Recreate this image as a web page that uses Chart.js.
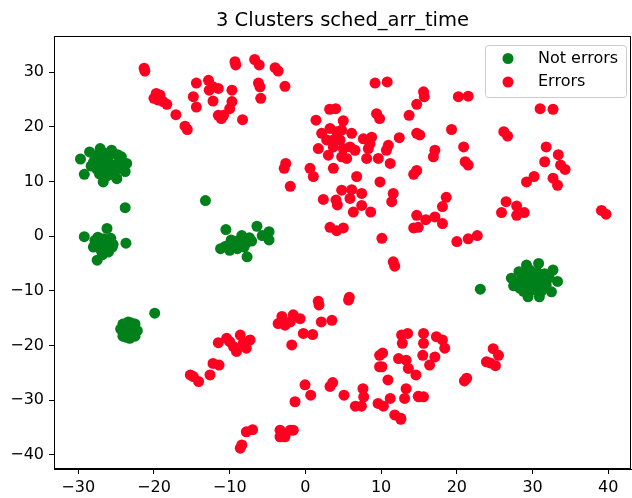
<!DOCTYPE html>
<html>
<head>
<meta charset="utf-8">
<script src="https://cdn.jsdelivr.net/npm/chart.js@4.4.0/dist/chart.umd.min.js"></script>
<style>
  html, body { margin: 0; padding: 0; background: #fff; }
</style>
</head>
<body>
<canvas id="c" width="632" height="498"></canvas>
<script>
// ── 3 Clusters sched_arr_time ──
// t-SNE style scatter, green = not errors, red = errors.

const xTicks = [-30, -20, -10, 0, 10, 20, 30, 40];
const xTickLabels = ['\u221230', '\u221220', '\u221210', '0', '10', '20', '30', '40'];
const yTicks = [-40, -30, -20, -10, 0, 10, 20, 30];
const yTickLabels = ['\u221240', '\u221230', '\u221220', '\u221210', '0', '10', '20', '30'];

const seriesLabels = ['Not errors', 'Errors'];

// green points [x, y]
const notErrorPoints = [
  // top-left cluster
  [-29.7, 14.1], [-29.2, 11.3], [-28.5, 15.4], [-27.1, 16.0], [-26.7, 9.9], [-24.9, 10.5], [-23.8, 11.8], [-23.6, 13.3],
  [-25.6, 15.7], [-24.3, 14.5], [-28.0, 13.5], [-27.5, 12.2], [-27.8, 14.6], [-26.9, 13.8], [-26.4, 12.6], [-26.0, 14.4],
  [-25.5, 13.0], [-25.1, 12.0], [-24.6, 13.6], [-27.2, 11.4], [-26.2, 11.0], [-25.8, 15.0], [-26.6, 15.2], [-24.8, 14.9],
  [-28.3, 12.8], [-25.3, 11.2], [-27.0, 14.9], [-24.2, 12.6], [-26.1, 13.4], [-25.7, 12.4],
  // singles
  [-23.8, 5.2], [-13.2, 6.5],
  // mid-left cluster
  [-29.2, -0.1], [-26.2, 1.4], [-23.7, -1.3], [-27.5, -4.4], [-26.0, -2.9], [-27.8, -0.8], [-27.2, -1.6], [-26.6, -0.5],
  [-26.0, -1.2], [-25.5, -2.0], [-27.0, -2.6], [-28.0, -2.0], [-26.4, -2.2], [-25.7, -0.4], [-27.4, -0.2], [-26.8, -3.4],
  [-25.4, -1.5],
  // middle cluster
  [-10.5, 1.2], [-6.4, 1.8], [-4.8, 0.8], [-4.8, -0.7], [-7.7, -3.8], [-11.2, -2.3], [-10.0, -2.6], [-5.7, 0.1],
  [-10.6, -1.9], [-10.0, -1.5], [-9.5, -1.9], [-9.4, -1.1], [-8.9, -0.9], [-8.6, -1.6], [-8.2, -0.5], [-7.8, -1.2],
  [-7.4, -0.3], [-7.1, -0.9], [-9.0, -2.3], [-8.1, -2.0], [-9.8, -0.7], [-8.4, 0.1],
  // bottom blob
  [-19.9, -14.1], [-23.3, -17.2], [-24.4, -17.0], [-22.2, -17.3], [-23.4, -15.7], [-23.2, -18.7], [-24.1, -16.1],
  [-22.5, -16.1], [-24.1, -18.3], [-22.5, -18.3], [-23.8, -17.6], [-22.8, -16.8], [-23.0, -15.9], [-23.6, -18.5],
  // right cluster
  [23.1, -9.7], [32.7, -6.2], [33.3, -8.3], [32.5, -10.2], [30.9, -11.1], [29.4, -11.1], [30.8, -5.0], [29.2, -5.3],
  [27.2, -7.7], [27.5, -9.1], [28.2, -6.5], [28.5, -8.0], [28.3, -9.5], [29.0, -7.0], [29.3, -8.8], [29.6, -6.2],
  [29.9, -9.9], [30.2, -7.5], [30.4, -8.6], [30.6, -6.6], [31.0, -9.3], [31.3, -7.8], [31.6, -6.9], [31.8, -8.9],
  [32.2, -7.6], [28.8, -10.1], [30.0, -8.1], [31.2, -10.0]
];

// red points [x, y]
const errorPoints = [
  // upper left
  [-21.3, 30.7], [-21.2, 30.2], [-19.7, 26.1], [-19.2, 25.8], [-20.0, 25.2], [-19.5, 24.9], [-18.8, 24.6], [-18.3, 24.1],
  [-17.1, 22.2], [-15.9, 20.1], [-15.6, 19.5], [-14.4, 28.0], [-14.8, 25.5], [-14.4, 23.6], [-12.8, 28.5], [-12.7, 26.7],
  [-12.2, 27.3], [-11.5, 27.0], [-12.2, 24.7], [-9.7, 26.7], [-9.7, 24.6], [-10.0, 23.3], [-10.8, 22.1], [-11.5, 22.1],
  [-11.1, 21.5], [-9.3, 31.9], [-9.2, 31.3], [-8.3, 21.3], [-6.7, 32.3], [-6.1, 31.3], [-6.2, 28.0], [-6.0, 27.3],
  [-5.9, 25.2], [-4.0, 30.8], [-3.6, 30.2], [-2.7, 27.4], [-2.6, 13.3], [-2.8, 12.4], [-2.0, 9.1],
  // upper right
  [9.2, 28.0], [10.8, 28.2], [15.6, 26.4], [15.7, 25.5], [14.7, 24.1], [13.7, 22.1], [9.4, 22.4], [9.8, 21.5],
  [20.2, 25.5], [21.5, 25.6], [31.0, 23.3], [32.7, 23.2], [3.2, 23.2], [4.0, 23.3], [1.4, 21.2], [5.0, 21.1],
  [2.15, 18.8], [3.25, 19.7], [4.13, 19.1], [4.79, 19.4], [2.81, 17.6], [3.69, 17.6], [4.57, 17.6], [6.11, 18.8],
  [7.65, 17.8], [8.75, 18.1], [1.71, 16.0], [3.03, 14.8], [3.69, 16.3], [5.01, 16.0], [5.89, 16.3], [6.55, 15.7],
  [5.45, 14.2], [4.79, 14.5], [8.09, 14.2], [9.63, 14.2], [8.53, 16.9], [8.31, 16.0], [3.69, 12.4], [0.61, 12.4],
  [1.05, 10.9], [6.77, 10.9], [9.85, 9.9], [11.2, 13.3], [10.95, 16.6], [12.4, 18.0], [10.7, 15.7],
  [14.7, 18.8], [15.1, 18.5], [19.3, 19.5], [26.2, 19.1], [26.7, 18.3], [17.1, 15.7], [16.9, 14.5], [20.9, 16.3],
  [21.1, 13.6], [21.5, 13.0], [14.7, 12.0], [14.3, 11.3],
  [2.37, 6.7], [4.04, 6.6], [4.22, 5.7], [4.79, 8.4], [6.11, 8.5], [5.89, 6.9], [7.43, 7.8], [6.33, 4.4],
  [7.43, 5.6], [8.62, 4.4], [11.6, 7.8], [11.4, 6.3], [18.6, 7.1], [18.1, 5.4], [14.7, 3.8], [15.9, 3.0],
  [17.1, 3.5], [18.1, 2.3], [14.3, 1.5], [14.9, 1.6], [3.25, 1.6], [4.13, 1.0], [5.01, 1.5], [10.1, -0.4],
  [20.0, -1.0], [21.5, -0.5], [22.7, 0.1],
  [26.5, 6.3], [27.9, 5.5], [28.9, 4.3], [25.9, 4.3], [27.9, 3.8], [29.2, 9.9], [30.2, 10.9], [31.8, 16.3],
  [33.4, 14.9], [31.6, 13.6], [33.7, 13.0], [34.3, 12.2], [32.7, 10.6], [33.3, 9.3], [39.1, 4.7], [39.7, 4.0],
  [11.6, -4.7], [11.8, -5.5],
  // lower left
  [-11.5, -19.5], [-10.4, -18.7], [-8.6, -18.1], [-7.3, -19.0], [-9.5, -20.2], [-9.1, -21.1], [-7.8, -20.5],
  [-10.0, -19.3], [-8.2, -19.6], [-12.2, -23.3], [-11.4, -23.6], [-12.6, -25.4], [-14.8, -25.7], [-14.1, -26.6],
  [-15.2, -25.4],
  [-3.1, -14.7], [-1.6, -14.4], [-0.7, -15.1], [-2.7, -16.3], [-3.6, -16.0], [-2.0, -15.7], [1.8, -12.6], [1.7, -11.9],
  [5.7, -11.7], [5.8, -11.2], [2.1, -15.7], [3.5, -15.4], [-0.27, -17.8], [0.96, -18.0], [-1.8, -19.9],
  // lower right
  [-0.05, -27.2], [0.7, -29.1], [-1.37, -30.3], [3.25, -27.5], [3.6, -26.8], [5.1, -29.1], [7.6, -27.9], [7.7, -29.4],
  [6.6, -31.1], [7.4, -31.1], [9.8, -21.8], [9.8, -23.9], [10.9, -26.3], [9.6, -30.6], [10.3, -31.1], [11.2, -29.7],
  [11.8, -32.7], [12.6, -33.3], [12.7, -18.1], [13.5, -17.8], [12.8, -19.6], [15.6, -17.8], [15.6, -19.6], [15.5, -21.8],
  [12.3, -22.4], [13.3, -22.7], [13.6, -24.2], [14.6, -25.4], [16.4, -23.6], [17.1, -22.1], [17.3, -18.4], [13.3, -27.9],
  [13.1, -29.7], [15.0, -29.4], [15.6, -29.4], [18.1, -19.0], [18.4, -20.5], [21.3, -26.0], [21.0, -26.5], [24.8, -20.6],
  [25.5, -21.8], [23.9, -23.0], [25.1, -23.7], [24.4, -23.2], [10.2, -21.4], [10.1, -23.9], [12.6, -33.5], [14.9, -29.3],
  // bottom
  [-8.4, -38.2], [-8.6, -38.8], [-7.8, -35.8], [-6.97, -35.4], [-3.35, -35.5], [-2.0, -35.5], [-2.7, -36.7],
  [-3.35, -36.7], [-1.6, -35.5]
];

const FONT = 'DejaVu Sans';
const toXY = pts => pts.map(([x, y]) => ({ x, y }));

// axes box on all four sides, like matplotlib spines
const frame = {
  id: 'frame',
  afterDatasetsDraw(chart) {
    const { ctx, chartArea: a } = chart;
    ctx.save();
    ctx.strokeStyle = '#000';
    ctx.lineWidth = 1;
    ctx.strokeRect(a.left + 0.5, a.top + 0.5, a.right - a.left - 1, a.bottom - a.top - 1);
    ctx.restore();
  }
};

// legend inside the plot, upper right
const legendBox = {
  id: 'legendBox',
  afterDraw(chart) {
    const { ctx, chartArea } = chart;
    const w = 141, h = 52;
    const x0 = chartArea.right - 5 - w, y0 = chartArea.top + 9;
    ctx.save();
    ctx.beginPath();
    ctx.roundRect(x0 + 0.5, y0 + 0.5, w, h, 3);
    ctx.fillStyle = 'rgba(255,255,255,0.8)';
    ctx.fill();
    ctx.strokeStyle = '#cccccc';
    ctx.lineWidth = 1;
    ctx.stroke();
    chart.data.datasets.forEach((ds, i) => {
      const cy = y0 + 13.5 + i * 23.5;
      ctx.beginPath();
      ctx.arc(x0 + 23, cy, 5.5, 0, Math.PI * 2);
      ctx.fillStyle = ds.backgroundColor;
      ctx.fill();
      ctx.fillStyle = '#000';
      ctx.font = `16px "${FONT}"`;
      ctx.textBaseline = 'middle';
      ctx.fillText(ds.label, x0 + 53, cy);
    });
    ctx.restore();
  }
};

const tickStyle = { color: '#000', font: { size: 16, family: FONT } };
const gridStyle = { display: true, drawOnChartArea: false, drawTicks: true, tickLength: 5, color: '#000', lineWidth: 1 };

new Chart(document.getElementById('c'), {
  type: 'scatter',
  data: {
    datasets: [
      {
        label: seriesLabels[0],
        data: toXY(notErrorPoints),
        backgroundColor: '#00801a',
        borderWidth: 0,
        pointRadius: 5.5,
        order: 2
      },
      {
        label: seriesLabels[1],
        data: toXY(errorPoints),
        backgroundColor: '#ff0020',
        borderWidth: 0,
        pointRadius: 5.5,
        order: 1
      }
    ]
  },
  options: {
    responsive: false,
    animation: false,
    layout: { autoPadding: false, padding: { left: 0, right: 1, top: 0, bottom: 0 } },
    plugins: {
      legend: { display: false },
      tooltip: { enabled: false },
      title: {
        display: true,
        text: '3 Clusters sched_arr_time',
        color: '#000',
        fullSize: false,
        font: { size: 19.5, family: FONT, weight: 'normal' },
        padding: { top: 9, bottom: 3.6 }
      }
    },
    scales: {
      x: {
        type: 'linear',
        min: -33.2,
        max: 43.0,
        afterBuildTicks: s => { s.ticks = xTicks.map(v => ({ value: v })); },
        afterFit: s => { s.height = 29; s.paddingLeft = 0; s.paddingRight = 0; },
        ticks: { ...tickStyle, padding: 4, maxRotation: 0, callback: v => xTickLabels[xTicks.indexOf(v)] },
        grid: gridStyle,
        border: { display: true, color: '#000', width: 1 }
      },
      y: {
        type: 'linear',
        min: -42.6,
        max: 36.6,
        afterBuildTicks: s => { s.ticks = yTicks.map(v => ({ value: v })); },
        afterFit: s => { s.width = 54; s.paddingTop = 0; s.paddingBottom = 0; },
        ticks: { ...tickStyle, padding: 5, callback: v => yTickLabels[yTicks.indexOf(v)] },
        grid: gridStyle,
        border: { display: true, color: '#000', width: 1 }
      }
    }
  },
  plugins: [frame, legendBox]
});
</script>
</body>
</html>
